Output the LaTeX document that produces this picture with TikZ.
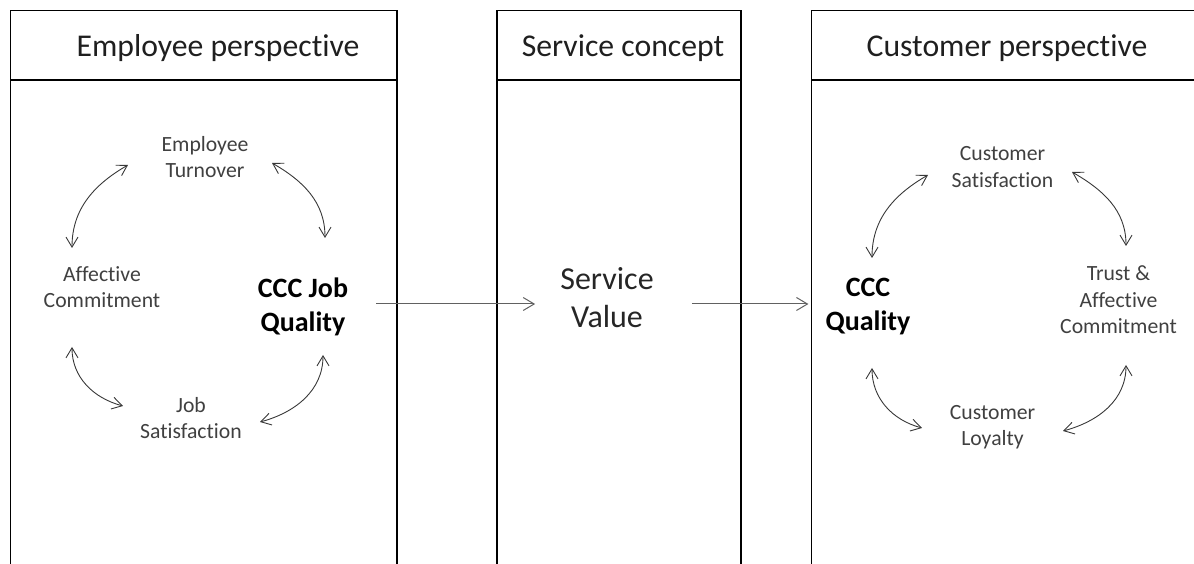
\documentclass[tikz,border=0pt]{standalone}
\usepackage{fontspec}
\setmainfont{Carlito}[RawFeature={-liga;-clig;-dlig;-calt}]
\usetikzlibrary{arrows.meta}

\begin{document}
\begin{tikzpicture}[x=1pt,y=1pt,
  panel/.style={draw=black, line width=1.2pt},
  divider/.style={draw=black, line width=2pt},
  headtext/.style={inner sep=0pt, anchor=base, font=\fontsize{31.7}{38}\selectfont, text=black!88},
  label/.style={inner sep=0pt, align=center, font=\fontsize{21.7}{26.5}\selectfont, text=black!75},
  core/.style={inner sep=0pt, align=center, font=\bfseries\fontsize{28}{34}\selectfont, text=black},
  valuetext/.style={inner sep=0pt, align=center, font=\fontsize{32}{38}\selectfont, text=black!85},
  flow/.style={draw=black!62, line width=1pt, -{Straight Barb[length=11pt,width=13pt]}},
  loopar/.style={draw=black!78, line width=0.9pt, {Straight Barb[length=10pt,width=12pt]}-{Straight Barb[length=10pt,width=12pt]}}]

\useasboundingbox (0,0) rectangle (1194,564);
\clip (0,0) rectangle (1194,564);

% three columns, open at the bottom
\draw[panel] (10.5,-5) -- (10.5,553.5) -- (397,553.5) -- (397,-5);
\draw[draw=black, line width=1.8pt] (10.5,-5) -- (10.5,553.5);
\draw[divider] (10.5,483.5) -- (397,483.5);
\draw[panel] (497,-5) -- (497,553.5) -- (741,553.5) -- (741,-5);
\draw[divider] (497,483.5) -- (741,483.5);
\draw[panel] (811.5,-5) -- (811.5,553.5) -- (1200,553.5);
\draw[divider] (811.5,483.5) -- (1200,483.5);

% column headings
\node[headtext] (hemp) at (218,507) {Employee perspective};
\node[headtext] (hsvc) at (623,507) {Service concept};
\node[headtext] (hcus) at (1007,507) {Customer perspective};

% employee cycle
\node[label] (turn) at (205,407) {Employee\\Turnover};
\node[label] (affc) at (102,277) {Affective\\Commitment};
\node[core]  (jobq) at (303,257) {CCC Job\\Quality};
\node[label] (jobs) at (191,146) {Job\\Satisfaction};

% service concept
\node[valuetext] (sval) at (607,266) {Service\\Value};

% customer cycle
\node[label] (csat) at (1002.5,397) {Customer\\Satisfaction};
\node[core]  (cccq) at (868,257) {CCC\\Quality};
\node[label] (trst) at (1118.5,264) {Trust \&\\Affective\\Commitment};
\node[label] (cloy) at (992.5,137) {Customer\\Loyalty};

% main flow
\coordinate (axis) at (0,260);
\draw[flow, shorten <=28pt, shorten >=25pt] (jobq.east |- axis) -- (sval.west |- axis);
\draw[flow, shorten <=38pt, shorten >=17pt] (sval.east |- axis) -- (cccq.west |- axis);

% ends of the curved links
\coordinate (e1a) at (128,399);  \coordinate (e1b) at (72,316);
\coordinate (e2a) at (272,401);  \coordinate (e2b) at (325,326);
\coordinate (e3a) at (72,217);   \coordinate (e3b) at (123,158);
\coordinate (e4a) at (260,142);  \coordinate (e4b) at (323,209);
\coordinate (e5a) at (928,389);  \coordinate (e5b) at (872,306);
\coordinate (e6a) at (1072,392); \coordinate (e6b) at (1126,318);
\coordinate (e7a) at (872,196);  \coordinate (e7b) at (922,136);
\coordinate (e8a) at (1063,133); \coordinate (e8b) at (1126,199);

\draw[loopar] (e1b) to[out=90,in=210] (e1a);
\draw[loopar] (e2a) to[out=-30,in=90] (e2b);
\draw[loopar] (e3a) to[out=-90,in=165] (e3b);
\draw[loopar] (e4a) to[out=15,in=-90] (e4b);
\draw[loopar] (e5b) to[out=90,in=210] (e5a);
\draw[loopar] (e6a) to[out=-30,in=90] (e6b);
\draw[loopar] (e7a) to[out=-90,in=165] (e7b);
\draw[loopar] (e8a) to[out=15,in=-90] (e8b);
\end{tikzpicture}
\end{document}
